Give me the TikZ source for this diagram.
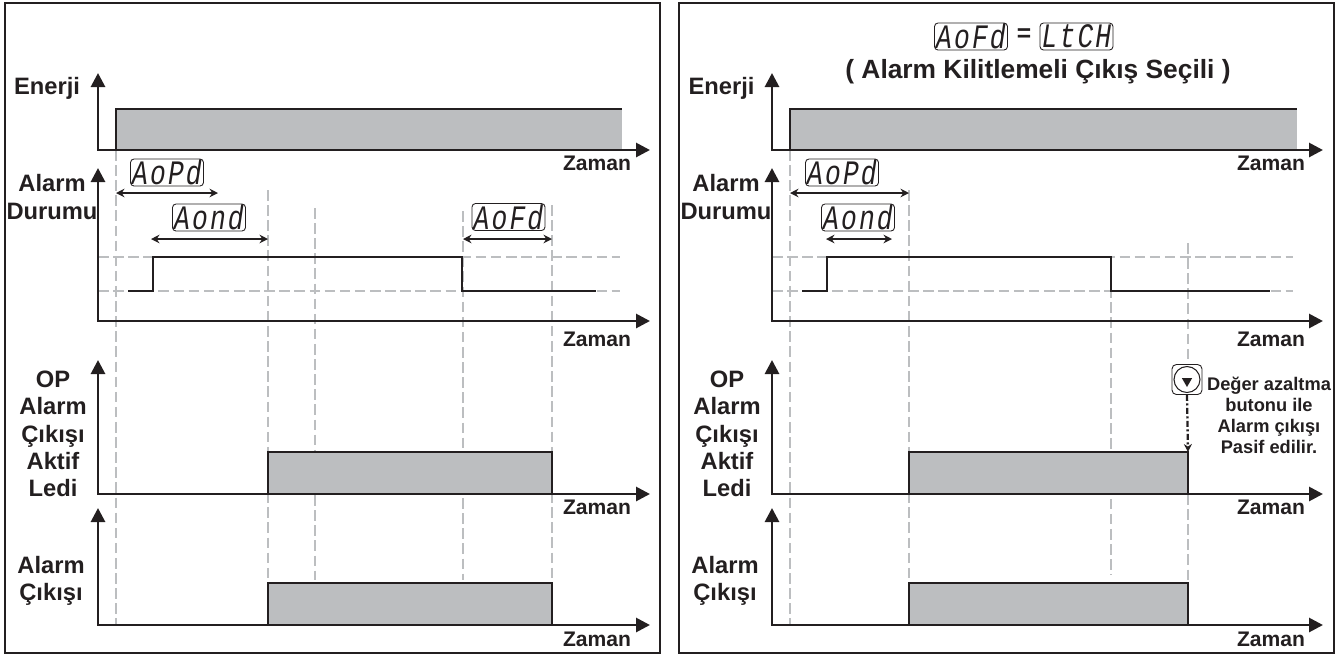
\documentclass[tikz,border=0pt]{standalone}
\usepackage{fontspec}
\setmainfont{Liberation Sans}
\newfontfamily\segfont[LetterSpace=8]{Liberation Mono}
\usetikzlibrary{arrows.meta,shapes.geometric}
\definecolor{ink}{HTML}{231F20}
\definecolor{barfill}{HTML}{BCBEC0}
\newcommand{\segtext}[1]{\scalebox{1}[1.3]{#1}}
\begin{document}
\begin{tikzpicture}[x=0.02cm,y=-0.02cm]
		\tikzstyle{frame}=[draw=ink,line width=1.3pt]
		\tikzstyle{axis}=[draw=ink,line width=1.6pt,{Triangle[width=.28cm,length=.28cm]}-{Triangle[width=.28cm,length=.28cm]}]
		\tikzstyle{guide}=[draw=barfill,line width=1.5pt,dash pattern=on 6pt off 2.6pt]
		\tikzstyle{bar}=[fill=barfill]
		\tikzstyle{barline}=[draw=ink,line width=1.6pt]
		\tikzstyle{signal}=[draw=ink,line width=1.6pt]
		\tikzstyle{span}=[draw=ink,line width=1pt,{Stealth[width=.17cm,length=.17cm]}-{Stealth[width=.17cm,length=.17cm]}]
		\tikzstyle{seg}=[draw=ink,rounded corners=2pt,line width=.5pt,minimum width=1.46cm,minimum height=.54cm,inner sep=0pt,font=\segfont\itshape\fontsize{15}{15}\selectfont,text=ink]
		\tikzstyle{side}=[text=ink,align=center,font=\bfseries\fontsize{13.5}{15.6}\selectfont]
		\tikzstyle{zaman}=[text=ink,font=\bfseries\fontsize{12}{14}\selectfont]
		
		\useasboundingbox (0,0) rectangle (1343,657);
		\coordinate (f1a) at (5,3); \coordinate (f1b) at (660,653);
		\coordinate (f2a) at (679,3); \coordinate (f2b) at (1334,653);
		
		% guide lines, left
		\coordinate (l1a) at (116,150); \coordinate (l1b) at (116,625);
		\coordinate (l2a) at (268,190); \coordinate (l2b) at (268,583);
		\coordinate (l3a) at (315,208); \coordinate (l3b) at (315,580);
		\coordinate (l4a) at (463,211); \coordinate (l4b) at (463,580);
		\coordinate (l5a) at (552,205); \coordinate (l5b) at (552,622);
		\coordinate (l6a) at (98,257); \coordinate (l6b) at (620,257);
		\coordinate (l7a) at (98,291); \coordinate (l7b) at (620,291);
		\draw[guide] (l1a) -- (l1b);
		\draw[guide] (l2a) -- (l2b);
		\draw[guide] (l3a) -- (l3b);
		\draw[guide] (l4a) -- (l4b);
		\draw[guide] (l5a) -- (l5b);
		\draw[guide] (l6a) -- (l6b);
		\draw[guide] (l7a) -- (l7b);
		
		% guide lines, right
		\coordinate (r1a) at (790,150); \coordinate (r1b) at (790,625);
		\coordinate (r2a) at (909,190); \coordinate (r2b) at (909,583);
		\coordinate (r4a) at (1111,257); \coordinate (r4b) at (1111,575);
		\coordinate (r5a) at (1188,243); \coordinate (r5b) at (1188,364);
		\coordinate (r8a) at (1188,494); \coordinate (r8b) at (1188,583);
		\coordinate (r6a) at (772,257); \coordinate (r6b) at (1293,257);
		\coordinate (r7a) at (772,291); \coordinate (r7b) at (1293,291);
		\draw[guide] (r1a) -- (r1b);
		\draw[guide] (r2a) -- (r2b);
		\draw[guide] (r4a) -- (r4b);
		\draw[guide] (r5a) -- (r5b);
		\draw[guide] (r8a) -- (r8b);
		\draw[guide] (r6a) -- (r6b);
		\draw[guide] (r7a) -- (r7b);
		
		% bars
		\coordinate (b1a) at (116,150); \coordinate (b1b) at (622,109);
		\coordinate (b2a) at (268,494); \coordinate (b2b) at (552,452);
		\coordinate (b3a) at (268,625); \coordinate (b3b) at (552,583);
		\coordinate (b4a) at (790,150); \coordinate (b4b) at (1297,109);
		\coordinate (b5a) at (909,494); \coordinate (b5b) at (1188,452);
		\coordinate (b6a) at (909,625); \coordinate (b6b) at (1188,583);
		\fill[bar] (b1a) rectangle (b1b);
		\fill[bar] (b2a) rectangle (b2b);
		\fill[bar] (b3a) rectangle (b3b);
		\fill[bar] (b4a) rectangle (b4b);
		\fill[bar] (b5a) rectangle (b5b);
		\fill[bar] (b6a) rectangle (b6b);
		\draw[barline] (b1a) |- (b1b);
		\draw[barline] (b2a) |- (b2b) -- (b2b |- b2a);
		\draw[barline] (b3a) |- (b3b) -- (b3b |- b3a);
		\draw[barline] (b4a) |- (b4b);
		\draw[barline] (b5a) |- (b5b) -- (b5b |- b5a);
		\draw[barline] (b6a) |- (b6b) -- (b6b |- b6a);
		
		% axes
		\coordinate (a1y) at (98,73); \coordinate (a1x) at (650,150);
		\coordinate (a2y) at (98,168); \coordinate (a2x) at (650,321);
		\coordinate (a3y) at (98,360); \coordinate (a3x) at (650,494);
		\coordinate (a4y) at (98,508); \coordinate (a4x) at (650,625);
		\coordinate (a5y) at (772,73); \coordinate (a5x) at (1323,150);
		\coordinate (a6y) at (772,168); \coordinate (a6x) at (1323,321);
		\coordinate (a7y) at (772,360); \coordinate (a7x) at (1323,494);
		\coordinate (a8y) at (772,508); \coordinate (a8x) at (1323,625);
		\draw[axis] (a1y) |- (a1x);
		\draw[axis] (a2y) |- (a2x);
		\draw[axis] (a3y) |- (a3x);
		\draw[axis] (a4y) |- (a4x);
		\draw[axis] (a5y) |- (a5x);
		\draw[axis] (a6y) |- (a6x);
		\draw[axis] (a7y) |- (a7x);
		\draw[axis] (a8y) |- (a8x);
		
		% alarm state
		\coordinate (s1a) at (128,291); \coordinate (s1b) at (153,257);
		\coordinate (s1c) at (462,291); \coordinate (s1d) at (596,291);
		\coordinate (s2a) at (802,291); \coordinate (s2b) at (827,257);
		\coordinate (s2c) at (1111,291); \coordinate (s2d) at (1270,291);
		\draw[signal] (s1a) -| (s1b) -| (s1c) -- (s1d);
		\draw[signal] (s2a) -| (s2b) -| (s2c) -- (s2d);
		
		% left panel
		\draw[frame] (f1a) rectangle (f1b);
		\node[side] (t1) at (47,88) {Enerji};
		\node[side] (t2) at (52,197) {Alarm\\Durumu};
		\node[side] (t3) at (53,434) {OP\\Alarm\\Çıkışı\\Aktif\\Ledi};
		\node[side] (t4) at (51,581) {Alarm\\Çıkışı};
		\node[zaman] (z1) at (597,163) {Zaman};
		\node[zaman] (z2) at (597,339) {Zaman};
		\node[zaman] (z3) at (597,507) {Zaman};
		\node[zaman] (z4) at (597,639) {Zaman};
		\node[seg] (aopd) at (167,172.5) {\segtext{AoPd}};
		\node[seg] (aond) at (209,217.5) {\segtext{Aond}};
		\node[seg] (aofd) at (508.5,217) {\segtext{AoFd}};
		\coordinate (d1a) at (116,193); \coordinate (d1b) at (218,193);
		\coordinate (d2a) at (151,239); \coordinate (d2b) at (268,239);
		\coordinate (d3a) at (463,239); \coordinate (d3b) at (552,239);
		\draw[span] (d1a) -- (d1b);
		\draw[span] (d2a) -- (d2b);
		\draw[span] (d3a) -- (d3b);
		
		% right panel
		\draw[frame] (f2a) rectangle (f2b);
		\node[side] (t5) at (721.5,88) {Enerji};
		\node[side] (t6) at (726,197) {Alarm\\Durumu};
		\node[side] (t7) at (727,434) {OP\\Alarm\\Çıkışı\\Aktif\\Ledi};
		\node[side] (t8) at (725,581) {Alarm\\Çıkışı};
		\node[zaman] (z5) at (1271,163) {Zaman};
		\node[zaman] (z6) at (1271,339) {Zaman};
		\node[zaman] (z7) at (1271,507) {Zaman};
		\node[zaman] (z8) at (1271,639) {Zaman};
		\node[seg] (aopd2) at (842,172.5) {\segtext{AoPd}};
		\node[seg] (aond2) at (858,217.5) {\segtext{Aond}};
		\node[seg] (aofd2) at (971,36.5) {\segtext{AoFd}};
		\node[text=ink,font=\bfseries\fontsize{14}{14}\selectfont] (eq) at (1024,35) {=};
		\node[seg] (ltch) at (1076.5,36.5) {\segtext{LtCH}};
		\node[text=ink,font=\bfseries\fontsize{15}{16}\selectfont] (title) at (1038,72) {( Alarm Kilitlemeli Çıkış Seçili )};
		\coordinate (d4a) at (790,193); \coordinate (d4b) at (909,193);
		\coordinate (d5a) at (826,239); \coordinate (d5b) at (892,239);
		\draw[span] (d4a) -- (d4b);
		\draw[span] (d5a) -- (d5b);
		
		% button
		\node[draw=ink,line width=.5pt,rounded corners=2.5pt,minimum size=.6cm,inner sep=0pt] (btn) at (1187,379.5) {};
		\node[circle,draw=ink,line width=.6pt,minimum size=.52cm,inner sep=0pt] (btnc) at (btn.center) {};
		\node[regular polygon,regular polygon sides=3,shape border rotate=180,fill=ink,minimum size=.24cm,inner sep=0pt] (btnt) at (1187,381) {};
		\draw[draw=ink,line width=1.3pt,dash pattern=on 3.4pt off 1.4pt on 1.2pt off 1.4pt,-{Stealth[width=.16cm,length=.16cm]}] (btn.south) -- (b5b);
		\node[side,font=\bfseries\fontsize{10.4}{11.9}\selectfont] (hint) at (1269,415.5) {Değer azaltma\\butonu ile\\Alarm çıkışı\\Pasif edilir.};
\end{tikzpicture}
\end{document}
